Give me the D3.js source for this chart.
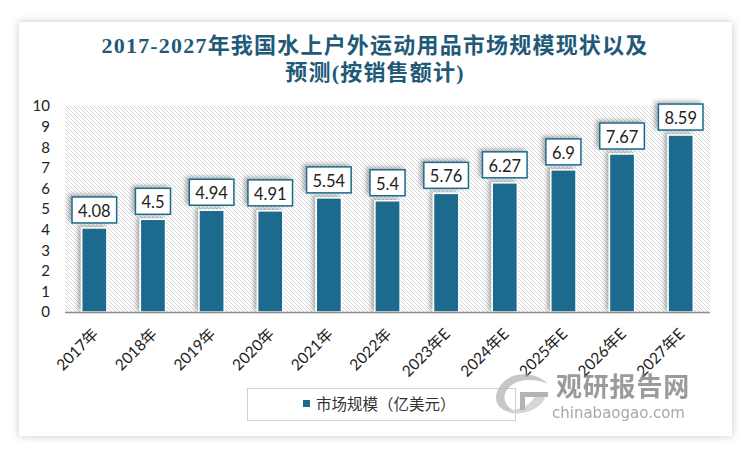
<!DOCTYPE html>
<html><head><meta charset="utf-8">
<script src="https://cdn.jsdelivr.net/npm/d3@7"></script>
<style>html,body{margin:0;padding:0;background:#fff;}</style>
</head><body>
<svg id="chart" width="750" height="452"></svg>
<script>
const categories = ["2017年","2018年","2019年","2020年","2021年","2022年","2023年E","2024年E","2025年E","2026年E","2027年E"];
const values = [4.08,4.5,4.94,4.91,5.54,5.4,5.76,6.27,6.9,7.67,8.59];
const yTicks = [0,1,2,3,4,5,6,7,8,9,10];
const titleLines = ["2017-2027年我国水上户外运动用品市场规模现状以及","预测(按销售额计)"];
const legendLabel = "市场规模（亿美元）";

(function(){
const svg = d3.select("#chart");
const defs = svg.append("defs");
const sh = defs.append("filter").attr("id","cardShadow").attr("x","-5%").attr("y","-5%").attr("width","110%").attr("height","110%");
sh.append("feDropShadow").attr("dx",0).attr("dy",0).attr("stdDeviation",4).attr("flood-color","#000").attr("flood-opacity",0.22);
const bs = defs.append("filter").attr("id","barShadow").attr("x","-40%").attr("y","-20%").attr("width","180%").attr("height","140%");
bs.append("feDropShadow").attr("dx",-3).attr("dy",-2).attr("stdDeviation",2).attr("flood-color","#000").attr("flood-opacity",0.3);
const pat = defs.append("pattern").attr("id","hatch").attr("patternUnits","userSpaceOnUse").attr("width",4).attr("height",4);
pat.append("rect").attr("width",4).attr("height",4).attr("fill","#fff");
pat.append("path").attr("d","M-1,-1 L5,5 M-1,3 L1,5 M3,-1 L5,1").attr("stroke","#d6d6d6").attr("stroke-width",1);

svg.append("rect").attr("x",19).attr("y",22).attr("width",713).attr("height",414).attr("fill","#fff").attr("filter","url(#cardShadow)");

const titleColor = "#1f5a78";
svg.selectAll("text.title").data(titleLines).enter().append("text")
  .attr("class","title").attr("x",375).attr("y",(d,i)=>53+i*27)
  .attr("text-anchor","middle").attr("fill",titleColor)
  .attr("font-family","'Liberation Serif','DejaVu Serif','Noto Sans CJK SC',serif")
  .attr("font-size",22).attr("font-weight","bold").attr("letter-spacing",1.2)
  .text(d=>d);

const pL=65,pR=710,pT=106,pB=312;
const x = d3.scaleBand().domain(categories).range([pL,pR]).paddingInner(0.57).paddingOuter(0.285);
const y = d3.scaleLinear().domain([0,10]).range([pB,pT]);

svg.append("rect").attr("x",pL).attr("y",pT).attr("width",pR-pL).attr("height",pB-pT).attr("fill","url(#hatch)");

const barColor = "#1b6a8d";
svg.append("g").selectAll("rect").data(values).enter().append("rect")
  .attr("x",(d,i)=>x(categories[i])).attr("y",d=>y(d))
  .attr("width",x.bandwidth()).attr("height",d=>pB-y(d))
  .attr("fill",barColor).attr("stroke","#fff").attr("stroke-width",1.5).attr("filter","url(#barShadow)");

svg.append("line").attr("x1",pL).attr("x2",pR).attr("y1",pB+0.5).attr("y2",pB+0.5).attr("stroke","#8c8c8c").attr("stroke-width",1.5);

const yAxis = d3.axisLeft(y).tickValues(yTicks).tickSize(0).tickPadding(0);
const gy = svg.append("g").attr("transform","translate(50,0)").call(yAxis);
gy.select(".domain").remove();
gy.selectAll("text").attr("font-family","Lato,'Open Sans',sans-serif").attr("font-size",15).attr("fill","#222");

const xAxis = d3.axisBottom(x).tickSize(0).tickPadding(0);
const gx = svg.append("g").attr("transform",`translate(0,${pB})`).call(xAxis);
gx.select(".domain").remove();
gx.selectAll("text").attr("font-family","Lato,'Open Sans','Noto Sans CJK SC',sans-serif").attr("font-size",15.5).attr("fill","#222")
  .attr("text-anchor","end").attr("y",0).attr("dy",0).attr("transform","translate(5,23) rotate(-45)");

const lab = svg.append("g");
values.forEach((v,i)=>{
  const cx = x(categories[i])+x.bandwidth()/2;
  const t = lab.append("text").attr("x",cx).attr("y",y(v)-11)
    .attr("text-anchor","middle").attr("font-family","Lato,'Open Sans',sans-serif").attr("font-size",16.5).attr("fill","#222").text(v);
  const w = t.node().getComputedTextLength();
  lab.insert("rect","text").attr("x",cx-w/2-6).attr("y",y(v)-31).attr("width",w+12).attr("height",26)
    .attr("fill","#fff").attr("stroke",barColor).attr("stroke-width",1.5).attr("filter","url(#barShadow)");
});

svg.append("rect").attr("x",247.5).attr("y",388.5).attr("width",268).attr("height",32).attr("fill","#fff").attr("stroke","#d0d0d0");
svg.append("rect").attr("x",303).attr("y",400).attr("width",7).attr("height",7).attr("fill",barColor);
svg.append("text").attr("x",316).attr("y",410).attr("font-family","'Noto Sans CJK SC',sans-serif").attr("font-size",15.5).attr("fill","#333").text(legendLabel);

const wm = svg.append("g").attr("opacity",0.75);
wm.append("path").attr("d","M548,384 C535,370 505,370 497,392 C492,405 505,415 520,413 C508,410 500,400 507,390 C515,378 535,378 548,384 Z").attr("fill","#b5b5b5");
wm.append("path").attr("d","M545,398 C540,410 520,418 505,410 C515,412 532,406 536,394 Z").attr("fill","#c9c9c9");
wm.append("path").attr("d","M520,392 L548,392 L548,397 L525,397 L525,410 L520,410 Z").attr("fill","#9a9a9a");
wm.append("text").attr("x",556).attr("y",396).attr("font-family","'Noto Sans CJK SC',sans-serif").attr("font-weight","bold").attr("font-size",26).attr("fill","#7a7a7a").attr("letter-spacing",0.8).text("观研报告网");
wm.append("text").attr("x",552).attr("y",418).attr("font-family","'DejaVu Sans',sans-serif").attr("font-size",15).attr("fill","#8a8a8a").text("chinabaogao.com");
})();
</script>
</body></html>
